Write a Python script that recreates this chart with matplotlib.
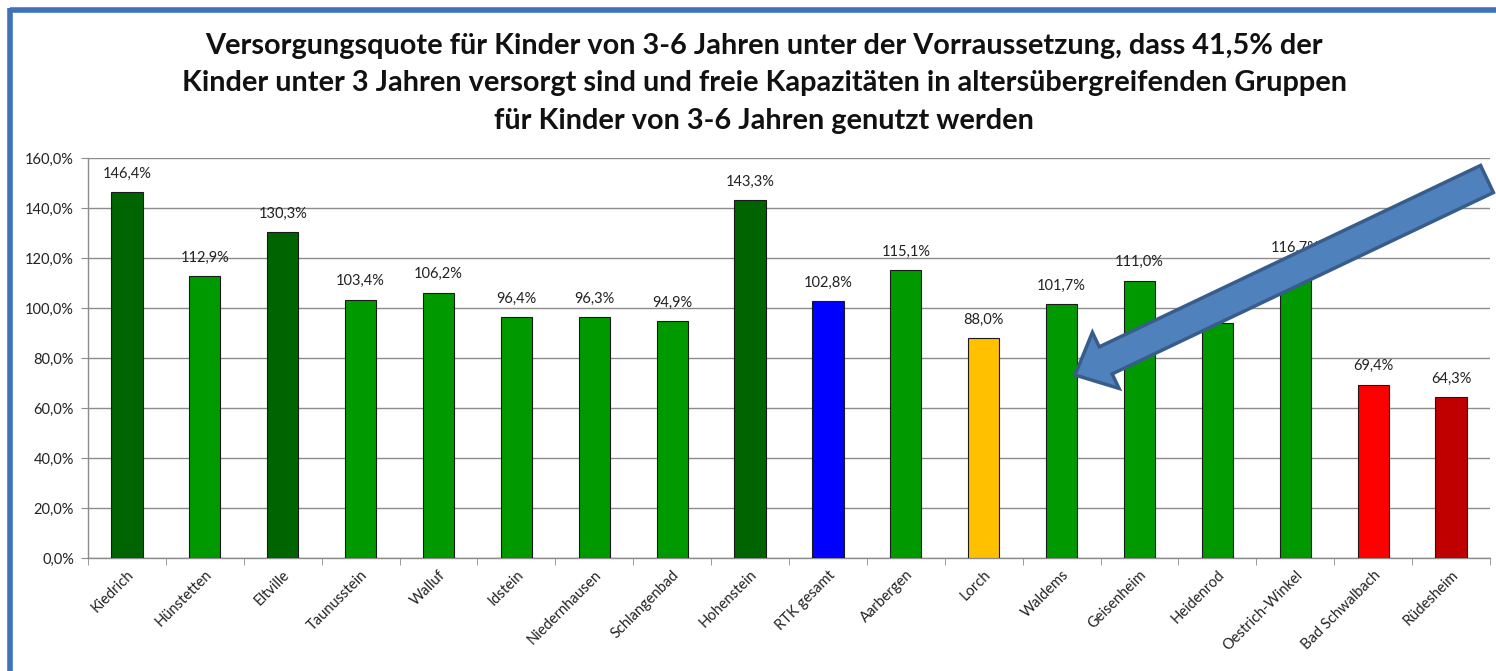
import matplotlib
matplotlib.use("Agg")
import matplotlib.pyplot as plt
from matplotlib.patches import FancyArrow
from matplotlib.lines import Line2D
from matplotlib.transforms import IdentityTransform
from matplotlib.ticker import FuncFormatter, MultipleLocator
import numpy as np

categories = ["Kiedrich", "Hünstetten", "Eltville", "Taunusstein", "Walluf", "Idstein",
              "Niedernhausen", "Schlangenbad", "Hohenstein", "RTK gesamt", "Aarbergen",
              "Lorch", "Waldems", "Geisenheim", "Heidenrod", "Oestrich-Winkel",
              "Bad Schwalbach", "Rüdesheim"]
values = [146.4, 112.9, 130.3, 103.4, 106.2, 96.4, 96.3, 94.9, 143.3, 102.8, 115.1,
          88.0, 101.7, 111.0, 94.1, 116.7, 69.4, 64.3]
colors = ["#006400", "#009900", "#006400", "#009900", "#009900", "#009900",
          "#009900", "#009900", "#006400", "#0000FF", "#009900",
          "#FFC000", "#009900", "#009900", "#009900", "#009900",
          "#FF0000", "#C00000"]
title_lines = ["Versorgungsquote für Kinder von 3-6 Jahren unter der Vorraussetzung, dass 41,5% der",
               "Kinder unter 3 Jahren versorgt sind und freie Kapazitäten in altersübergreifenden Gruppen",
               "für Kinder von 3-6 Jahren genutzt werden"]

plt.rcParams['font.family'] = ['Lato', 'DejaVu Sans']

W, H = 1496, 671
fig = plt.figure(figsize=(W / 100, H / 100), dpi=100)
ax = fig.add_axes([88 / W, 1 - 558 / H, (1490 - 88) / W, (558 - 158) / H])

x = np.arange(len(categories))
ax.bar(x, values, width=0.4, color=colors, edgecolor="#1a1a1a", linewidth=0.8, zorder=3)
for xi, v in zip(x, values):
    ax.annotate(f"{v:.1f}%".replace(".", ","), (xi, v), xytext=(0, 8), textcoords="offset points",
                ha="center", va="bottom", fontsize=10.5, color="#222222", zorder=4)

ax.set_xlim(-0.5, len(categories) - 0.5)
ax.set_ylim(0, 160)
ax.yaxis.set_major_locator(MultipleLocator(20))
ax.yaxis.set_major_formatter(FuncFormatter(lambda v, p: f"{v:.1f}%".replace(".", ",")))
ax.grid(axis="y", color="#8c8c8c", linewidth=1.0, zorder=0)
ax.set_axisbelow(True)

ax.set_xticks(x)
ax.set_xticklabels(categories, rotation=45, ha="right", rotation_mode="anchor", fontsize=10.5,
                   color="#222222")
ax.set_xticks(np.arange(len(categories) + 1) - 0.5, minor=True)
ax.tick_params(axis="x", which="major", length=0, pad=7)
ax.tick_params(axis="x", which="minor", length=5, color="#8c8c8c", direction="out")
ax.tick_params(axis="y", length=5, color="#8c8c8c", labelsize=10.5, labelcolor="#222222", pad=5)

for s in ["top", "right"]:
    ax.spines[s].set_visible(False)
for s in ["left", "bottom"]:
    ax.spines[s].set_color("#8c8c8c")
    ax.spines[s].set_linewidth(1.0)

# title, three centred lines
title_y = [46, 83, 121]
for line, yy in zip(title_lines, title_y):
    fig.text(764 / W, 1 - yy / H, line, ha="center", va="center", fontsize=20.8,
             fontweight="bold", color="#111111")

# frame lines (top and left)
fig.add_artist(Line2D([10 / W, 1.0], [1 - 10 / H, 1 - 10 / H], color="#3F72B9", linewidth=4.0,
                      transform=fig.transFigure, solid_capstyle="butt"))
fig.add_artist(Line2D([10 / W, 10 / W], [0, 1 - 8 / H], color="#3F72B9", linewidth=4.0,
                      transform=fig.transFigure, solid_capstyle="butt"))

# big arrow annotation (pixel coordinates)
tail = (1487, H - 179)
tip = (1075, H - 375)
arrow = FancyArrow(tail[0], tail[1], tip[0] - tail[0], tip[1] - tail[1], width=30,
                   head_width=62, head_length=34, length_includes_head=True,
                   facecolor="#4F81BD", edgecolor="#385D8A", linewidth=2.5,
                   transform=IdentityTransform(), zorder=10)
fig.add_artist(arrow)

fig.savefig("out.png", dpi=100)
